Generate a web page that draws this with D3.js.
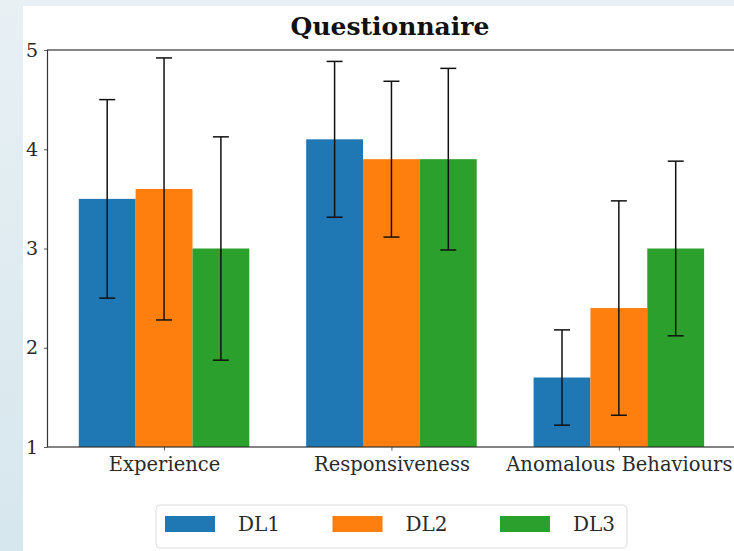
<!DOCTYPE html>
<html>
<head>
<meta charset="utf-8">
<script src="https://cdn.jsdelivr.net/npm/d3@7"></script>
<style>
  html, body { margin: 0; padding: 0; }
  body { width: 734px; height: 551px; overflow: hidden; background: linear-gradient(180deg, #e8f0f4 0%, #d6e7ed 100%); }
  #chart { position: absolute; left: 0; top: 0; }
</style>
</head>
<body>
<div id="chart"></div>
<script>
// Questionnaire scores per category, mean and error (half-width) per DL
const categories = ['Experience', 'Responsiveness', 'Anomalous Behaviours'];
const seriesNames = ['DL1', 'DL2', 'DL3'];
const dl1Mean = [3.5, 4.1, 1.7];
const dl2Mean = [3.6, 3.9, 2.4];
const dl3Mean = [3.0, 3.9, 3.0];
const dl1Err = [1.0, 0.785, 0.48];
const dl2Err = [1.32, 0.785, 1.08];
const dl3Err = [1.125, 0.915, 0.88];
const yTicks = [1, 2, 3, 4, 5];

const COLORS = ['#1f77b4', '#ff7f0e', '#2ca02c'];
const FONT = "DejaVu Serif";

const W = 734, H = 551;
const barW = 0.25;
const means = [dl1Mean, dl2Mean, dl3Mean];
const errs = [dl1Err, dl2Err, dl3Err];

const svg = d3.select('#chart').append('svg').attr('width', W).attr('height', H);

// white figure area
svg.append('rect').attr('x', 23).attr('y', 6).attr('width', W - 23).attr('height', H - 6).attr('fill', '#fff');

const x = d3.scaleLinear().domain([-0.5125, 2.5125]).range([47.5, 735.4]);
const y = d3.scaleLinear().domain([1, 5]).range([447, 50]);

const g = svg.append('g');

// ── Bars ──────────────────────────────────────────────────────
const bars = [];
means.forEach((arr, s) => arr.forEach((v, i) => bars.push({ s, i, v, e: errs[s][i] })));
const off = s => (s - 1) * barW;

g.selectAll('.bar').data(bars).enter().append('rect')
  .attr('x', d => x(d.i + off(d.s) - barW / 2))
  .attr('y', d => y(d.v))
  .attr('width', d => x(d.i + off(d.s) + barW / 2) - x(d.i + off(d.s) - barW / 2))
  .attr('height', d => y(1) - y(d.v))
  .attr('fill', d => COLORS[d.s]);

// ── Error bars ────────────────────────────────────────────────
const eb = g.selectAll('.err').data(bars).enter().append('g').attr('stroke', '#111').attr('stroke-width', 1.5);
eb.append('line')
  .attr('x1', d => x(d.i + off(d.s))).attr('x2', d => x(d.i + off(d.s)))
  .attr('y1', d => y(d.v + d.e)).attr('y2', d => y(d.v - d.e));
[1, -1].forEach(sign => {
  eb.append('line')
    .attr('x1', d => x(d.i + off(d.s)) - 8).attr('x2', d => x(d.i + off(d.s)) + 8)
    .attr('y1', d => y(d.v + sign * d.e)).attr('y2', d => y(d.v + sign * d.e));
});

// ── Axes ──────────────────────────────────────────────────────
const yAxis = g.append('g').attr('transform', `translate(${x(-0.5125)},0)`)
  .call(d3.axisLeft(y).tickValues(yTicks).tickSize(3.5).tickPadding(6).tickFormat(d3.format('d')))
  .attr('font-family', FONT).attr('font-size', 19);
yAxis.select('.domain').remove();
yAxis.selectAll('line').attr('stroke', '#333').attr('stroke-width', 0.8);
yAxis.selectAll('text').attr('fill', '#2a2a2a');

const xAxis = g.append('g').attr('transform', `translate(0,${y(1)})`)
  .call(d3.axisBottom(x).tickValues([0, 1, 2]).tickSize(3.5).tickPadding(7).tickFormat(i => categories[i]))
  .attr('font-family', FONT).attr('font-size', 19.5);
xAxis.select('.domain').remove();
xAxis.selectAll('line').attr('stroke', '#333').attr('stroke-width', 0.8);
xAxis.selectAll('text').attr('fill', '#2a2a2a');

// spines
const sp = g.append('g').attr('stroke', '#333').attr('stroke-width', 1.2).attr('fill', 'none');
sp.append('rect').attr('x', x(-0.5125)).attr('y', y(5))
  .attr('width', x(2.5125) - x(-0.5125)).attr('height', y(1) - y(5));

// ── Title ─────────────────────────────────────────────────────
svg.append('text').attr('x', 390).attr('y', 35).attr('text-anchor', 'middle')
  .attr('font-family', FONT).attr('font-weight', 'bold').attr('font-size', 25).attr('fill', '#111')
  .text('Questionnaire');

// ── Legend ────────────────────────────────────────────────────
const legend = svg.append('g');
legend.append('rect').attr('x', 156).attr('y', 505).attr('width', 471).attr('height', 43).attr('rx', 4)
  .attr('fill', '#fff').attr('stroke', '#ddd').attr('stroke-width', 1);
seriesNames.forEach((name, i) => {
  const lx = 165 + i * 167.5;
  legend.append('rect').attr('x', lx).attr('y', 516).attr('width', 50).attr('height', 16).attr('fill', COLORS[i]);
  legend.append('text').attr('x', lx + 73).attr('y', 531)
    .attr('font-family', FONT).attr('font-size', 20).attr('fill', '#2a2a2a').text(name);
});
</script>
</body>
</html>
